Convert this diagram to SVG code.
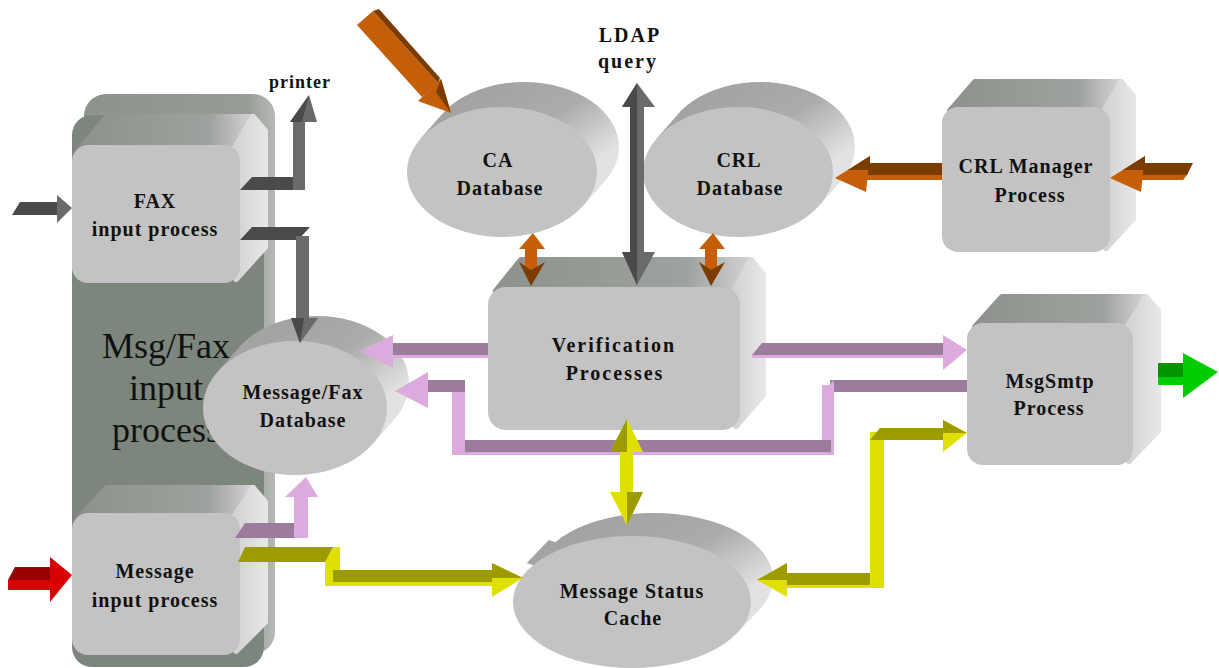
<svg xmlns="http://www.w3.org/2000/svg" width="1219" height="668" viewBox="0 0 1219 668">
<defs>
<linearGradient id="topG" x1="0" y1="0" x2="1" y2="0"><stop offset="0" stop-color="#8d928d"/><stop offset="0.75" stop-color="#9ea29e"/><stop offset="1" stop-color="#d4d4d4"/></linearGradient>
<linearGradient id="sideG" x1="0" y1="0" x2="1" y2="0"><stop offset="0" stop-color="#d2d2d2"/><stop offset="1" stop-color="#e6e6e6"/></linearGradient>
<linearGradient id="cylG" x1="0.3" y1="0" x2="1" y2="0.7"><stop offset="0" stop-color="#a0a3a0"/><stop offset="0.45" stop-color="#aaacaa"/><stop offset="0.85" stop-color="#e2e2e2"/></linearGradient>
<linearGradient id="bigG" x1="0" y1="0" x2="1" y2="0"><stop offset="0" stop-color="#8c928c"/><stop offset="0.85" stop-color="#979c97"/><stop offset="1" stop-color="#b6bab6"/></linearGradient>
</defs>
<style>
.front{fill:#c3c3c3}
.top{fill:url(#topG);stroke:url(#topG);stroke-width:6;stroke-linejoin:round}
.side{fill:url(#sideG);stroke:url(#sideG);stroke-width:6;stroke-linejoin:round}
.cyl{fill:url(#cylG)}
.lbl{font-family:"Liberation Serif","Times New Roman",serif;font-weight:bold;font-size:20px;fill:#111;text-anchor:middle;letter-spacing:1px}
.big{font-family:"Liberation Serif","Times New Roman",serif;font-size:36px;fill:#111;text-anchor:middle}
.gD{fill:#4a4a4a}.gL{fill:#6a6a6a}
.pD{fill:#9c7c9c}.pL{fill:#dcaadc}
.yD{fill:#9c9c00}.yL{fill:#e0e000}
.oD{fill:#7a3c00}.oL{fill:#c45e08}
.nD{fill:#009400}.nL{fill:#00cc00}
.rD{fill:#980000}.rL{fill:#d80000}
</style>

<g id="msgfax-input-process">
<rect x="84" y="94" width="191" height="560" rx="22" fill="url(#bigG)"/>
<rect x="72" y="115" width="192" height="552" rx="20" fill="#7d867d"/>
<text class="big" x="166" y="358">Msg/Fax</text>
<text class="big" x="166" y="400">input</text>
<text class="big" x="166" y="442">process</text>
</g>

<g id="fax-input">
<polygon class="top" points="80,149 107,117 253,117 236,151"/>
<polygon class="side" points="234,149 253,117 265,131 265,247 236,279"/>
<rect class="front" x="72" y="145" width="168" height="138" rx="16"/>
<text class="lbl" x="155" y="208">FAX</text>
<text class="lbl" x="155" y="236">input process</text>
</g>

<g id="message-input">
<polygon class="top" points="80,517 107,488 253,488 236,519"/>
<polygon class="side" points="234,517 253,488 265,502 265,622 236,651"/>
<rect class="front" x="72" y="513" width="168" height="142" rx="16"/>
<text class="lbl" x="155" y="578">Message</text>
<text class="lbl" x="155" y="607">input process</text>
</g>

<g id="message-fax-db">
<path class="cyl" d="M225,383 A92,67 0 1 0 409,383 A92,67 0 1 0 225,383 Z M372.4,444.2 L394.4,419.2 L239.6,346.8 L217.6,371.8 Z"/>
<ellipse class="front" cx="295" cy="408" rx="92" ry="67"/>
<text class="lbl" x="303" y="399">Message/Fax</text>
<text class="lbl" x="303" y="427">Database</text>
</g>

<g id="ca-db">
<path class="cyl" d="M429,147 A95,65 0 1 0 619,147 A95,65 0 1 0 429,147 Z M583.4,205.5 L605.4,180.5 L442.6,113.5 L420.6,138.5 Z"/>
<ellipse class="front" cx="502" cy="172" rx="95" ry="65"/>
<text class="lbl" x="498" y="167">CA</text>
<text class="lbl" x="500" y="195">Database</text>
</g>

<g id="crl-db">
<path class="cyl" d="M665,147 A95,65 0 1 0 855,147 A95,65 0 1 0 665,147 Z M819.4,205.5 L841.4,180.5 L678.6,113.5 L656.6,138.5 Z"/>
<ellipse class="front" cx="738" cy="172" rx="95" ry="65"/>
<text class="lbl" x="739" y="167">CRL</text>
<text class="lbl" x="740" y="195">Database</text>
</g>

<g id="crl-manager">
<polygon class="top" points="950,111 975,82 1121,82 1106,113"/>
<polygon class="side" points="1104,111 1121,82 1133,96 1133,219 1106,248"/>
<rect class="front" x="942" y="107" width="168" height="145" rx="16"/>
<text class="lbl" x="1026" y="173">CRL Manager</text>
<text class="lbl" x="1030" y="202">Process</text>
</g>

<g id="verification">
<polygon class="top" points="496,291 521,260 751,260 736,293"/>
<polygon class="side" points="734,291 751,260 763,274 763,395 736,426"/>
<rect class="front" x="488" y="287" width="252" height="143" rx="18"/>
<text class="lbl" x="614" y="352" style="letter-spacing:2px">Verification</text>
<text class="lbl" x="615" y="380" style="letter-spacing:2px">Processes</text>
</g>

<g id="msgsmtp">
<polygon class="top" points="975,327 1002,297 1146,297 1129,329"/>
<polygon class="side" points="1127,327 1146,297 1158,311 1158,431 1129,461"/>
<rect class="front" x="967" y="323" width="166" height="142" rx="16"/>
<text class="lbl" x="1050" y="388">MsgSmtp</text>
<text class="lbl" x="1049" y="415">Process</text>
</g>

<g id="message-status-cache">
<path class="cyl" d="M535,579 A119,66 0 1 0 773,579 A119,66 0 1 0 535,579 Z M737.2,632.9 L759.2,609.9 L548.8,540.1 L526.8,563.1 Z"/>
<ellipse class="front" cx="632" cy="602" rx="119" ry="66"/>
<text class="lbl" x="632" y="598">Message Status</text>
<text class="lbl" x="633" y="625">Cache</text>
</g>

<g id="labels">
<text class="lbl" x="300" y="88" style="font-size:18px">printer</text>
<text class="lbl" x="630" y="42" style="letter-spacing:2px">LDAP</text>
<text class="lbl" x="628" y="68" style="letter-spacing:2px">query</text>
</g>

<g id="connectors">
<!-- FAX input (gray) -->
<polygon class="gD" points="12,215 20,202 58,202 58,215"/>
<polygon class="gL" points="57,195 72,208 57,223"/>
<!-- FAX -> printer -->
<polygon class="gD" points="240,190 252,177 305,177 293,190"/>
<rect class="gL" x="293" y="120" width="12" height="70"/>
<polygon class="gL" points="290,122 309,95 317,122"/>
<polygon class="gD" points="290,122 309,95 302,122"/>
<!-- FAX -> Message/Fax DB -->
<polygon class="gD" points="240,240 252,227 310,227 298,240"/>
<rect class="gL" x="296" y="236" width="13" height="84"/>
<polygon class="gL" points="291,318 300,343 318,318"/>
<polygon class="gD" points="291,318 300,343 304,318"/>
<!-- LDAP query -->
<rect class="gD" x="630" y="104" width="7" height="150"/>
<rect class="gL" x="637" y="104" width="7" height="150"/>
<polygon class="gL" points="622,107 637,83 655,107"/>
<polygon class="gD" points="622,107 637,83 637,107"/>
<polygon class="gL" points="622,252 637,285 655,252"/>
<polygon class="gD" points="622,252 637,285 637,252"/>

<!-- Orange into CA -->
<polygon class="oL" points="357,25 373,11 438,83 422,97"/>
<polygon class="oD" points="373,11 379,9 440,78 438,83"/>
<polygon class="oL" points="441,79 451,113 418,101"/>
<polygon class="oD" points="441,79 451,113 436,92"/>
<!-- CA <-> Verification -->
<rect class="oL" x="525" y="245" width="12" height="28"/>
<polygon class="oL" points="519,249 533,233 545,249"/>
<polygon class="oD" points="519,262 531,286 545,262 531,270"/>
<!-- CRL <-> Verification -->
<rect class="oL" x="705" y="245" width="12" height="28"/>
<polygon class="oL" points="699,249 713,233 725,249"/>
<polygon class="oD" points="699,262 711,286 725,262 711,270"/>
<!-- CRL Manager -> CRL DB -->
<rect class="oD" x="866" y="163" width="76" height="12"/>
<rect class="oL" x="866" y="175" width="76" height="5"/>
<polygon class="oL" points="870,156 835,178 866,192"/>
<polygon class="oD" points="870,156 848,170 870,170"/>
<!-- input -> CRL Manager -->
<polygon class="oD" points="1141,163 1193,163 1187,175 1141,175"/>
<polygon class="oL" points="1141,175 1187,175 1183,180 1141,180"/>
<polygon class="oL" points="1145,156 1110,178 1141,192"/>
<polygon class="oD" points="1145,156 1123,170 1145,170"/>

<!-- Pink: Message input -> Message/Fax DB -->
<polygon class="pD" points="235,538 245,523 308,523 298,538"/>
<rect class="pL" x="294" y="495" width="14" height="43"/>
<polygon class="pL" points="285,497 306,477 318,497"/>
<!-- Pink: Verification -> Message/Fax DB -->
<rect class="pD" x="390" y="343" width="98" height="12"/>
<rect class="pL" x="390" y="355" width="98" height="3"/>
<polygon class="pL" points="393,335 360,351 393,368"/>
<!-- Pink: Verification -> MsgSmtp -->
<polygon class="pD" points="752,355 762,343 945,343 945,355"/>
<rect class="pL" x="752" y="355" width="193" height="3"/>
<polygon class="pL" points="943,335 967,350 943,370"/>
<!-- Pink: MsgSmtp -> Message/Fax DB loop -->
<rect class="pD" x="830" y="380" width="137" height="12"/>
<rect class="pL" x="822" y="385" width="12" height="70"/>
<polygon class="pL" points="822,392 834,380 834,392"/>
<rect class="pD" x="455" y="440" width="376" height="12"/>
<rect class="pL" x="455" y="452" width="379" height="3"/>
<rect class="pL" x="452" y="383" width="13" height="72"/>
<rect class="pD" x="426" y="380" width="39" height="12"/>
<polygon class="pL" points="428,372 395,391 428,408"/>

<!-- Yellow: Message input -> Cache -->
<polygon class="yD" points="238,562 245,547 340,547 333,562"/>
<polygon class="yL" points="325,562 333,547 340,547 340,572 333,585 325,585"/>
<rect class="yD" x="333" y="570" width="162" height="12"/>
<rect class="yL" x="325" y="582" width="170" height="4"/>
<polygon class="yL" points="492,563 523,578 492,597"/>
<polygon class="yD" points="492,563 523,578 492,578"/>
<!-- Yellow: Verification <-> Cache -->
<rect class="yL" x="620" y="448" width="13" height="46"/>
<polygon class="yL" points="610,452 627,419 643,452"/>
<polygon class="yD" points="610,452 627,419 627,452"/>
<polygon class="yL" points="610,492 627,525 643,492"/>
<polygon class="yD" points="627,492 627,525 643,492"/>
<!-- Yellow: Cache <-> MsgSmtp -->
<rect class="yD" x="783" y="573" width="101" height="12"/>
<rect class="yL" x="783" y="585" width="101" height="3"/>
<rect class="yL" x="870" y="432" width="14" height="156"/>
<polygon class="yD" points="870,440 880,428 945,428 945,440"/>
<polygon class="yL" points="943,420 967,433 943,452"/>
<polygon class="yD" points="943,420 967,433 943,433"/>
<polygon class="yL" points="787,563 757,580 787,597"/>
<polygon class="yD" points="787,563 757,580 787,580"/>

<!-- Green output -->
<rect class="nD" x="1158" y="363" width="28" height="14"/>
<rect class="nL" x="1158" y="377" width="28" height="8"/>
<polygon class="nL" points="1183,353 1218,372 1183,398"/>
<!-- Red input -->
<polygon class="rD" points="8,580 15,567 52,567 52,580"/>
<rect class="rL" x="8" y="580" width="44" height="10"/>
<polygon class="rL" points="50,557 72,575 50,602"/>
</g>
</svg>
